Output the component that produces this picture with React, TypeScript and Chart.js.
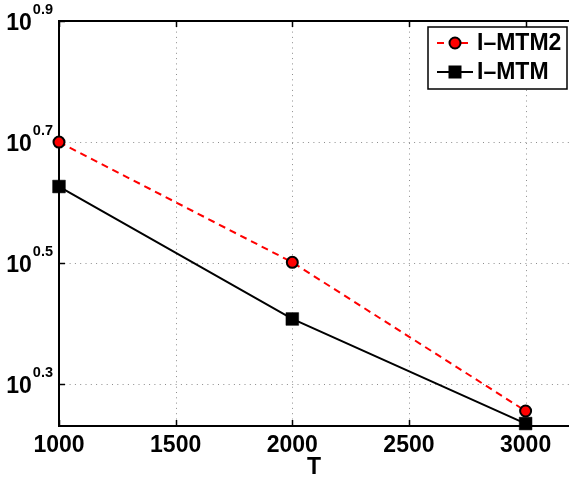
import React, { useEffect, useRef } from "react";
import { Chart, registerables } from "chart.js";

Chart.register(...registerables);

const T = [1000, 2000, 3000];
const imtm2 = [5.01, 3.17, 1.8];
const imtm = [4.23, 2.555, 1.716];
const xTicks = [1000, 1500, 2000, 2500, 3000];
const yTickExps = ["0.3", "0.5", "0.7", "0.9"];
const seriesNames = ["I\u2013MTM2", "I\u2013MTM"];
const xTitle = "T";

const FONT = '"Liberation Sans", Arial, Helvetica, sans-serif';

const W = 569;
const H = 479;

const framePlugin = {
  id: "matlabFrame",
  beforeDatasetsDraw(chart: any) {
    const { ctx, chartArea, scales } = chart;
    const { left, top, right, bottom } = chartArea;
    const x = scales.x;
    const y = scales.y;
    ctx.save();
    // grid
    ctx.strokeStyle = "rgba(0,0,0,0.45)";
    ctx.lineWidth = 1;
    ctx.setLineDash([1, 4.3]);
    xTicks.forEach((v) => {
      const px = Math.round(x.getPixelForValue(v)) + 0.5;
      ctx.beginPath();
      ctx.moveTo(px, top);
      ctx.lineTo(px, bottom);
      ctx.stroke();
    });
    yTickExps.forEach((e) => {
      const py = Math.round(y.getPixelForValue(Math.pow(10, parseFloat(e)))) + 0.5;
      ctx.beginPath();
      ctx.moveTo(left, py);
      ctx.lineTo(right, py);
      ctx.stroke();
    });
    ctx.setLineDash([]);
    // ticks
    ctx.strokeStyle = "#000";
    ctx.lineWidth = 1.5;
    xTicks.forEach((v) => {
      const px = Math.round(x.getPixelForValue(v)) + 0.5;
      ctx.beginPath();
      ctx.moveTo(px, bottom);
      ctx.lineTo(px, bottom - 6);
      ctx.moveTo(px, top);
      ctx.lineTo(px, top + 6);
      ctx.stroke();
    });
    yTickExps.forEach((e) => {
      const py = Math.round(y.getPixelForValue(Math.pow(10, parseFloat(e)))) + 0.5;
      ctx.beginPath();
      ctx.moveTo(left, py);
      ctx.lineTo(left + 6, py);
      ctx.stroke();
    });
    // frame
    ctx.lineWidth = 2;
    ctx.beginPath();
    ctx.moveTo(right, top);
    ctx.lineTo(left, top);
    ctx.lineTo(left, bottom);
    ctx.lineTo(right, bottom);
    ctx.stroke();
    ctx.restore();
  },
  afterDraw(chart: any) {
    const { ctx, chartArea, scales } = chart;
    const { left, right, bottom } = chartArea;
    const x = scales.x;
    const y = scales.y;
    ctx.save();
    ctx.fillStyle = "#000";
    // x tick labels
    ctx.font = `bold 23px ${FONT}`;
    ctx.textAlign = "center";
    ctx.textBaseline = "alphabetic";
    xTicks.forEach((v) => {
      ctx.fillText(String(v), x.getPixelForValue(v), bottom + 26);
    });
    // x title
    ctx.fillText(xTitle, (left + right) / 2, bottom + 48);
    // y tick labels
    ctx.textAlign = "left";
    yTickExps.forEach((e) => {
      const py = y.getPixelForValue(Math.pow(10, parseFloat(e)));
      ctx.font = `bold 14.5px ${FONT}`;
      const supW = ctx.measureText(e).width;
      ctx.font = `bold 23px ${FONT}`;
      const baseW = ctx.measureText("10").width;
      const x0 = left - 6 - supW - baseW - 1;
      ctx.fillText("10", x0, py + 9);
      ctx.font = `bold 14.5px ${FONT}`;
      ctx.fillText(e, x0 + baseW + 1, py - 7);
    });
    // legend
    const bx = 428, by = 27, bw = 139, bh = 62;
    ctx.fillStyle = "#fff";
    ctx.fillRect(bx, by, bw, bh);
    ctx.strokeStyle = "#000";
    ctx.lineWidth = 1.5;
    ctx.strokeRect(bx, by, bw, bh);
    const rows = [43, 72];
    // entry 1
    ctx.strokeStyle = "#ff0000";
    ctx.lineWidth = 2;
    ctx.setLineDash([7, 5]);
    ctx.beginPath();
    ctx.moveTo(437, rows[0]);
    ctx.lineTo(473, rows[0]);
    ctx.stroke();
    ctx.setLineDash([]);
    ctx.beginPath();
    ctx.arc(455, rows[0], 5.5, 0, Math.PI * 2);
    ctx.fillStyle = "#ff0000";
    ctx.fill();
    ctx.strokeStyle = "#000";
    ctx.lineWidth = 2;
    ctx.stroke();
    // entry 2
    ctx.strokeStyle = "#000";
    ctx.lineWidth = 2;
    ctx.beginPath();
    ctx.moveTo(437, rows[1]);
    ctx.lineTo(473, rows[1]);
    ctx.stroke();
    ctx.fillStyle = "#000";
    ctx.fillRect(455 - 6.5, rows[1] - 6.5, 13, 13);
    // text
    ctx.fillStyle = "#000";
    ctx.font = `bold 23px ${FONT}`;
    ctx.textAlign = "left";
    ctx.textBaseline = "middle";
    ctx.fillText(seriesNames[0], 477, rows[0] + 1);
    ctx.fillText(seriesNames[1], 477, rows[1] + 1);
    ctx.restore();
  },
};

export default function App() {
  const ref = useRef<HTMLCanvasElement | null>(null);
  useEffect(() => {
    if (!ref.current) return;
    const chart = new Chart(ref.current, {
      type: "line",
      data: {
        datasets: [
          {
            label: seriesNames[1],
            data: T.map((t, i) => ({ x: t, y: imtm[i] })),
            borderColor: "#000",
            backgroundColor: "#000",
            borderWidth: 2,
            pointStyle: "rect",
            pointRadius: 9,
            pointBorderWidth: 0.5,
            pointBorderColor: "#000",
            pointBackgroundColor: "#000",
            clip: false as any,
          },
          {
            label: seriesNames[0],
            data: T.map((t, i) => ({ x: t, y: imtm2[i] })),
            borderColor: "#ff0000",
            backgroundColor: "#ff0000",
            borderWidth: 2,
            borderDash: [7, 5],
            pointStyle: "circle",
            pointRadius: 5.5,
            pointBorderWidth: 2,
            pointBorderColor: "#000",
            pointBackgroundColor: "#ff0000",
            clip: false as any,
          },
        ],
      },
      options: {
        responsive: false,
        animation: false,
        devicePixelRatio: 1,
        layout: { autoPadding: false, padding: { top: 21, left: 0, right: 0, bottom: 0 } },
        plugins: { legend: { display: false }, tooltip: { enabled: false } },
        scales: {
          x: {
            type: "linear",
            min: 1000,
            max: 3186,
            ticks: { display: false },
            grid: { display: false },
            border: { display: false },
            afterFit: (s: any) => {
              s.height = 53;
            },
          },
          y: {
            type: "logarithmic",
            min: Math.pow(10, 0.2338),
            max: Math.pow(10, 0.9),
            ticks: { display: false },
            grid: { display: false },
            border: { display: false },
            afterFit: (s: any) => {
              s.width = 59;
            },
          },
        },
      },
      plugins: [framePlugin],
    });
    return () => chart.destroy();
  }, []);
  return (
    <div style={{ position: "fixed", left: 0, top: 0, width: W, height: H, background: "#fff" }}>
      <canvas ref={ref} width={W} height={H} style={{ display: "block", width: W, height: H }} />
    </div>
  );
}
